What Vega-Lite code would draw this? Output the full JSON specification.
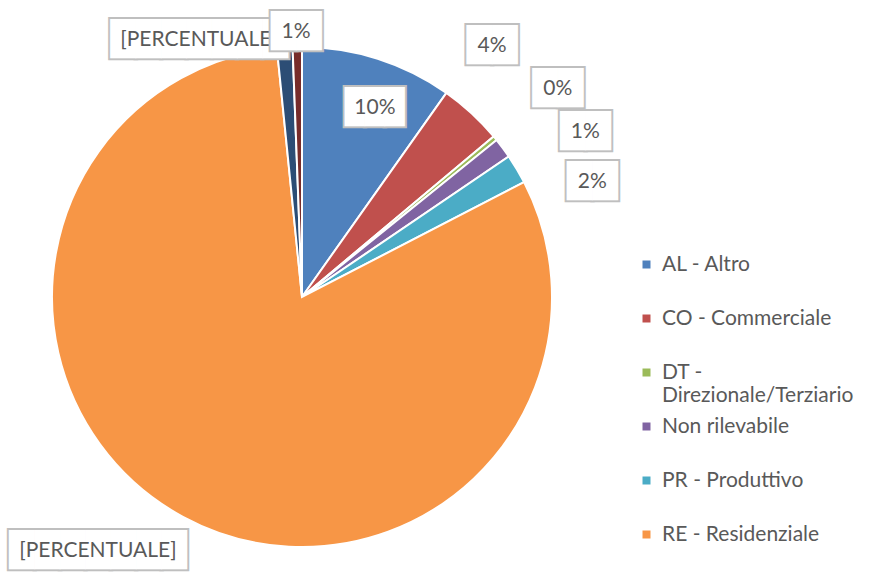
{
  "$schema": "https://vega.github.io/schema/vega-lite/v6.json",
  "width": 584,
  "height": 566,
  "autosize": {"type": "none"},
  "padding": {"left": 10, "top": 14, "right": 292, "bottom": 0},
  "background": "white",
  "config": {
    "view": {"stroke": "#d9d9d9", "strokeWidth": 2, "strokeDash": [584, 1150, 566, 0]},
    "font": "Lato"
  },
  "data": {
    "values": [
      {"ord": 1, "categoria": "AL - Altro", "valore": 9.8, "etichetta": "10%"},
      {"ord": 2, "categoria": "CO - Commerciale", "valore": 4.1, "etichetta": "4%"},
      {"ord": 3, "categoria": "DT - Direzionale/Terziario", "valore": 0.3, "etichetta": "0%"},
      {"ord": 4, "categoria": "Non rilevabile", "valore": 1.3, "etichetta": "1%"},
      {"ord": 5, "categoria": "PR - Produttivo", "valore": 1.9, "etichetta": "2%"},
      {"ord": 6, "categoria": "RE - Residenziale", "valore": 81.0, "etichetta": "[PERCENTUALE]"},
      {"ord": 7, "categoria": "Serie 7", "valore": 1.0, "etichetta": "[PERCENTUALE]"},
      {"ord": 8, "categoria": "Serie 8", "valore": 0.6, "etichetta": "1%"}
    ]
  },
  "encoding": {
    "theta": {"field": "valore", "type": "quantitative", "stack": true},
    "order": {"field": "ord", "type": "quantitative", "sort": "ascending"}
  },
  "layer": [
    {
      "mark": {"type": "arc", "outerRadius": 250, "stroke": "white", "strokeWidth": 2},
      "encoding": {
        "color": {
          "field": "categoria",
          "type": "nominal",
          "scale": {
            "domain": ["AL - Altro", "CO - Commerciale", "DT - Direzionale/Terziario", "Non rilevabile", "PR - Produttivo", "RE - Residenziale", "Serie 7", "Serie 8"],
            "range": ["#4F81BD", "#C0504D", "#9BBB59", "#8064A2", "#4BACC6", "#F79646", "#2C4D75", "#772C2A"]
          },
          "legend": {
            "orient": "none",
            "legendX": 626,
            "legendY": 240,
            "title": null,
            "values": ["AL - Altro", "CO - Commerciale", "DT - Direzionale/Terziario", "Non rilevabile", "PR - Produttivo", "RE - Residenziale"],
            "symbolType": "square",
            "symbolSize": 64,
            "symbolStrokeWidth": 0,
            "labelFont": "Lato",
            "labelFontSize": 21,
            "labelColor": "#595959",
            "labelOffset": 5,
            "labelLimit": 300,
            "rowPadding": 9,
            "gridAlign": "all",
            "labelExpr": "datum.label == 'DT - Direzionale/Terziario' ? ['DT -', 'Direzionale/Terziario'] : datum.label"
          }
        }
      }
    },
    {
      "mark": {
        "type": "text", "fontSize": 33, "fill": "#bfbfbf", "stroke": "#bfbfbf", "strokeWidth": 4,
        "align": "center", "baseline": "middle", "dy": 2,
        "font": {"expr": "datum.ord == 1 ? 'DejaVu Sans Mono' : 'DejaVu Sans'"},
        "radius": {"expr": "[204,316,331,329,313,324,279,267][datum.ord-1]"},
        "thetaOffset": {"expr": "[3.3,-5.7,0,6.0,8.8,10.6,-17.7,-0.2][datum.ord-1]*PI/180"}
      },
      "encoding": {
        "text": {"condition": [{"test": "datum.ord == 1", "value": "███"}, {"test": "length(datum.etichetta) > 4", "value": "███████"}], "value": "██"},
        "opacity": {"condition": {"test": "datum.ord == 8", "value": 0}, "value": 1}
      }
    },
    {
      "mark": {
        "type": "text", "fontSize": 33, "fill": "white",
        "align": "center", "baseline": "middle", "dy": 2,
        "font": {"expr": "datum.ord == 1 ? 'DejaVu Sans Mono' : 'DejaVu Sans'"},
        "radius": {"expr": "[204,316,331,329,313,324,279,267][datum.ord-1]"},
        "thetaOffset": {"expr": "[3.3,-5.7,0,6.0,8.8,10.6,-17.7,-0.2][datum.ord-1]*PI/180"}
      },
      "encoding": {
        "text": {"condition": [{"test": "datum.ord == 1", "value": "███"}, {"test": "length(datum.etichetta) > 4", "value": "███████"}], "value": "██"},
        "opacity": {"condition": {"test": "datum.ord == 8", "value": 0}, "value": 1}
      }
    },
    {
      "mark": {
        "type": "text", "font": "Lato", "fontSize": 21, "fill": "#595959",
        "align": "center", "baseline": "middle", "dy": 2,
        "radius": {"expr": "[204,316,331,329,313,324,279,267][datum.ord-1]"},
        "thetaOffset": {"expr": "[3.3,-5.7,0,6.0,8.8,10.6,-17.7,-0.2][datum.ord-1]*PI/180"}
      },
      "encoding": {
        "text": {"field": "etichetta"},
        "opacity": {"condition": {"test": "datum.ord == 8", "value": 0}, "value": 1}
      }
    },
    {
      "mark": {
        "type": "text", "font": "DejaVu Sans", "fontSize": 33, "fill": "#bfbfbf", "stroke": "#bfbfbf", "strokeWidth": 4,
        "align": "center", "baseline": "middle", "dy": 2,
        "radius": {"expr": "[204,316,331,329,313,324,279,267][datum.ord-1]"},
        "thetaOffset": {"expr": "[3.3,-5.7,0,6.0,8.8,10.6,-17.7,-0.2][datum.ord-1]*PI/180"}
      },
      "encoding": {
        "text": {"value": "██"},
        "opacity": {"condition": {"test": "datum.ord == 8", "value": 1}, "value": 0}
      }
    },
    {
      "mark": {
        "type": "text", "font": "DejaVu Sans", "fontSize": 33, "fill": "white",
        "align": "center", "baseline": "middle", "dy": 2,
        "radius": {"expr": "[204,316,331,329,313,324,279,267][datum.ord-1]"},
        "thetaOffset": {"expr": "[3.3,-5.7,0,6.0,8.8,10.6,-17.7,-0.2][datum.ord-1]*PI/180"}
      },
      "encoding": {
        "text": {"value": "██"},
        "opacity": {"condition": {"test": "datum.ord == 8", "value": 1}, "value": 0}
      }
    },
    {
      "mark": {
        "type": "text", "font": "Lato", "fontSize": 21, "fill": "#595959",
        "align": "center", "baseline": "middle", "dy": 2,
        "radius": {"expr": "[204,316,331,329,313,324,279,267][datum.ord-1]"},
        "thetaOffset": {"expr": "[3.3,-5.7,0,6.0,8.8,10.6,-17.7,-0.2][datum.ord-1]*PI/180"}
      },
      "encoding": {
        "text": {"field": "etichetta"},
        "opacity": {"condition": {"test": "datum.ord == 8", "value": 1}, "value": 0}
      }
    }
  ]
}
